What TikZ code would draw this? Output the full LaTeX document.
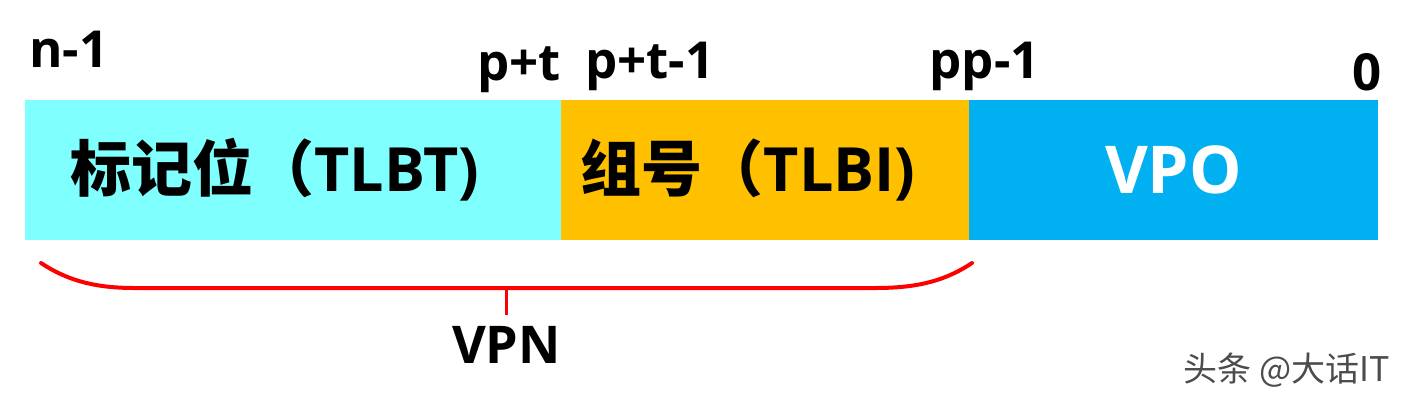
\documentclass[tikz,border=0pt]{standalone}
\usepackage{fontspec}
\setmainfont{Open Sans}
\newfontfamily\cjk{Noto Sans CJK SC}
\usetikzlibrary{positioning,calc}
\definecolor{TagCyan}{HTML}{80FFFF}
\definecolor{SetGold}{HTML}{FFC000}
\definecolor{OffBlue}{HTML}{00B0F0}
\definecolor{BraceRed}{HTML}{FF0000}
\tikzset{
  field/.style={inner sep=0pt,outer sep=0pt,minimum height=70pt,font=\bfseries\fontsize{30.5}{36}\selectfont},
  bitlabel/.style={inner sep=0pt,font=\bfseries\fontsize{25.5}{30}\selectfont},
}

\begin{document}
\begin{tikzpicture}[x=0.5pt,y=-0.5pt]
\useasboundingbox (0,0) rectangle (1411,402);
% the three fields of the virtual address
\node[field,fill=TagCyan,minimum width=268pt,anchor=north west] (tlbt) at (25,100) {{\cjk\bfseries 标记位（}TLBT)\hspace*{18pt}};
\node[field,fill=SetGold,minimum width=204pt,right=0pt of tlbt] (tlbi) {{\cjk\bfseries 组号（}TLBI)\hspace*{17pt}};
\node[field,fill=OffBlue,minimum width=204.5pt,right=0pt of tlbi,text=white,font=\bfseries\fontsize{33}{40}\selectfont] (vpo) {VPO};
% bit positions
\node[bitlabel,anchor=base west] (msb) at ([xshift=2pt,yshift=16.5pt]tlbt.north west) {n-1};
\node[bitlabel,anchor=base east] (tlo) at ([yshift=10pt]tlbt.north east) {p+t};
\node[bitlabel,anchor=base west] (ihi) at ([xshift=12pt,yshift=11pt]tlbi.north west) {p+t-1};
\node[bitlabel,anchor=base east] (ilo) at ([xshift=35.5pt,yshift=11pt]tlbi.north east) {pp-1};
\node[bitlabel,anchor=base east] (lsb) at ([xshift=2pt,yshift=5pt]vpo.north east) {0};
% brace under TLBT + TLBI
\coordinate (bl) at ([xshift=8pt,yshift=-11.5pt]tlbt.south west);
\coordinate (br) at ([xshift=1.5pt,yshift=-11.5pt]tlbi.south east);
\coordinate (bmid) at ($(bl)!0.5!(br)+(0,25)$);
\draw[BraceRed,line width=2pt,line cap=round]
  (bl) .. controls ($(bl)+(30,20)$) and ($(bl)+(60,25)$) .. ($(bl)+(94,25)$)
  -- ($(br)+(-97,25)$) .. controls ($(br)+(-60,25)$) and ($(br)+(-30,20)$) .. (br);
\node[bitlabel,font=\bfseries\fontsize{26}{30}\selectfont] (vpn) at ($(bmid)+(0,57)$) {VPN};
\draw[BraceRed,line width=1.5pt,shorten >=5.5pt] (bmid) -- (vpn.north);
% watermark
\node[font=\cjk\fontsize{17}{20}\selectfont,text=black!70] (mark) at (1287,370) {头条 @大话IT};
\end{tikzpicture}
\end{document}
